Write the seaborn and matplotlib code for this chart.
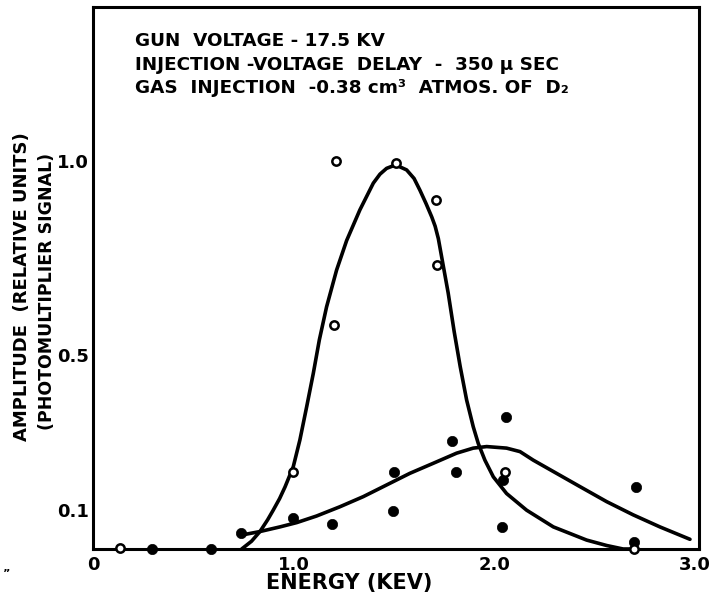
import matplotlib
matplotlib.use("Agg")
import matplotlib.pyplot as plt
import seaborn as sns
import pandas as pd

# ---- data ----
open_x = [0.135, 0.995, 1.201, 1.211, 1.508, 1.711, 1.712, 2.053, 2.697]
open_y = [0.003, 0.198, 0.577, 1.000, 0.996, 0.900, 0.732, 0.199, 0.000]

filled_x = [0.294, 0.588, 0.737, 0.998, 1.192, 1.493, 1.501, 1.790, 1.809,
            2.036, 2.045, 2.056, 2.697, 2.704]
filled_y = [0.000, 0.000, 0.040, 0.081, 0.064, 0.098, 0.199, 0.279, 0.199,
            0.056, 0.178, 0.339, 0.019, 0.161]

# hand-drawn fit through the open circles
narrow_x = [0.741, 0.790, 0.832, 0.870, 0.898, 0.930, 0.957, 0.998, 1.031,
            1.065, 1.098, 1.128, 1.164, 1.214, 1.264, 1.330, 1.397, 1.430,
            1.463, 1.508, 1.563, 1.600, 1.629, 1.660, 1.688, 1.705, 1.721,
            1.735, 1.770, 1.800, 1.830, 1.862, 1.895, 1.920, 1.953, 1.995,
            2.061, 2.161, 2.294, 2.460, 2.560, 2.642, 2.690]
narrow_y = [0.000, 0.020, 0.045, 0.075, 0.100, 0.130, 0.160, 0.212, 0.281,
            0.367, 0.453, 0.539, 0.624, 0.719, 0.795, 0.874, 0.943, 0.966,
            0.981, 0.990, 0.977, 0.955, 0.925, 0.890, 0.856, 0.832, 0.800,
            0.760, 0.660, 0.560, 0.470, 0.384, 0.315, 0.272, 0.229, 0.186,
            0.143, 0.100, 0.057, 0.023, 0.009, 0.000, 0.000]

# hand-drawn fit through the filled circles
broad_x = [0.741, 0.832, 0.932, 1.015, 1.114, 1.231, 1.347, 1.463, 1.579,
           1.696, 1.812, 1.895, 1.962, 2.061, 2.128, 2.194, 2.310, 2.426,
           2.560, 2.692, 2.825, 2.975]
broad_y = [0.036, 0.045, 0.057, 0.068, 0.085, 0.109, 0.135, 0.165, 0.195,
           0.221, 0.247, 0.260, 0.264, 0.260, 0.251, 0.229, 0.195, 0.161,
           0.122, 0.088, 0.057, 0.025]

xticks = [0, 1, 2, 3]
xticklabels = ["0", "1.0", "2.0", "3.0"]
yticks = [0.1, 0.5, 1.0]
yticklabels = ["0.1", "0.5", "1.0"]

notes = ["GUN  VOLTAGE - 17.5 KV",
         "INJECTION -VOLTAGE  DELAY  -  350 \u03bc SEC",
         "GAS  INJECTION  -0.38 cm\u00b3  ATMOS. OF  D\u2082"]

# ---- figure ----
sns.set_style("white")
plt.rcParams["font.family"] = ["DejaVu Sans"]
plt.rcParams["text.color"] = "black"
plt.rcParams["xtick.color"] = "black"
plt.rcParams["ytick.color"] = "black"

W, H = 721, 602
fig = plt.figure(figsize=(W / 100, H / 100), dpi=100)
L, R, T, B = 93, 699, 7, 549
ax = fig.add_axes([L / W, 1 - B / H, (R - L) / W, (B - T) / H])

df_n = pd.DataFrame({"x": narrow_x, "y": narrow_y})
df_b = pd.DataFrame({"x": broad_x, "y": broad_y})
sns.lineplot(data=df_n, x="x", y="y", sort=False, estimator=None, ax=ax,
             color="black", lw=2.6, clip_on=False)
sns.lineplot(data=df_b, x="x", y="y", sort=False, estimator=None, ax=ax,
             color="black", lw=2.6, clip_on=False)
for ln in ax.lines:
    ln.set_solid_joinstyle("round")
    ln.set_solid_capstyle("round")

df_o = pd.DataFrame({"x": open_x, "y": open_y})
df_f = pd.DataFrame({"x": filled_x, "y": filled_y})
sns.scatterplot(data=df_f, x="x", y="y", ax=ax, s=55, color="black",
                edgecolor="black", linewidth=0.5, clip_on=False, zorder=5)
sns.scatterplot(data=df_o, x="x", y="y", ax=ax, s=36, facecolor="white",
                edgecolor="black", linewidth=1.8, clip_on=False, zorder=6)

ax.set_xlim(0, 3.02)
ax.set_ylim(0, (B - T) / 388.0)
ax.set_xticks(xticks)
ax.set_xticklabels(xticklabels)
ax.set_yticks(yticks)
ax.set_yticklabels(yticklabels)
ax.tick_params(direction="in", length=8, width=1.5, labelsize=13,
               colors="black")
ax.tick_params(axis="x", pad=5)
ax.tick_params(axis="y", pad=3)
for lab in ax.get_xticklabels() + ax.get_yticklabels():
    lab.set_fontweight("bold")
ax.yaxis.get_major_ticks()[0].tick1line.set_visible(False)
ax.xaxis.get_major_ticks()[0].tick1line.set_visible(False)
ax.xaxis.get_major_ticks()[-1].tick1line.set_visible(False)
ax.set_xlabel("")
ax.set_ylabel("")
for sp in ax.spines.values():
    sp.set_visible(True)
    sp.set_linewidth(2.2)
    sp.set_color("black")

# annotation block
for i, t in enumerate(notes):
    fig.text(135 / W, 1 - (46 + 23.5 * i) / H, t, ha="left", va="baseline",
             fontsize=13.2, fontweight="bold", color="black")

# axis titles
fig.text(349 / W, 1 - 583 / H, "ENERGY (KEV)", ha="center", va="center",
         fontsize=15, fontweight="bold", color="black")
fig.text(22 / W, 1 - 287 / H, "AMPLITUDE  (RELATIVE UNITS)", ha="center",
         va="center", rotation=90, fontsize=13, fontweight="bold",
         color="black")
fig.text(47 / W, 1 - 291 / H, "(PHOTOMULTIPLIER SIGNAL)", ha="center",
         va="center", rotation=90, fontsize=12.5, fontweight="bold",
         color="black")
fig.text(3 / W, 1 - 574 / H, "\u201d", ha="left", va="center", fontsize=8,
         fontweight="bold", color="black")

fig.savefig("out.png", dpi=100, facecolor="white")
